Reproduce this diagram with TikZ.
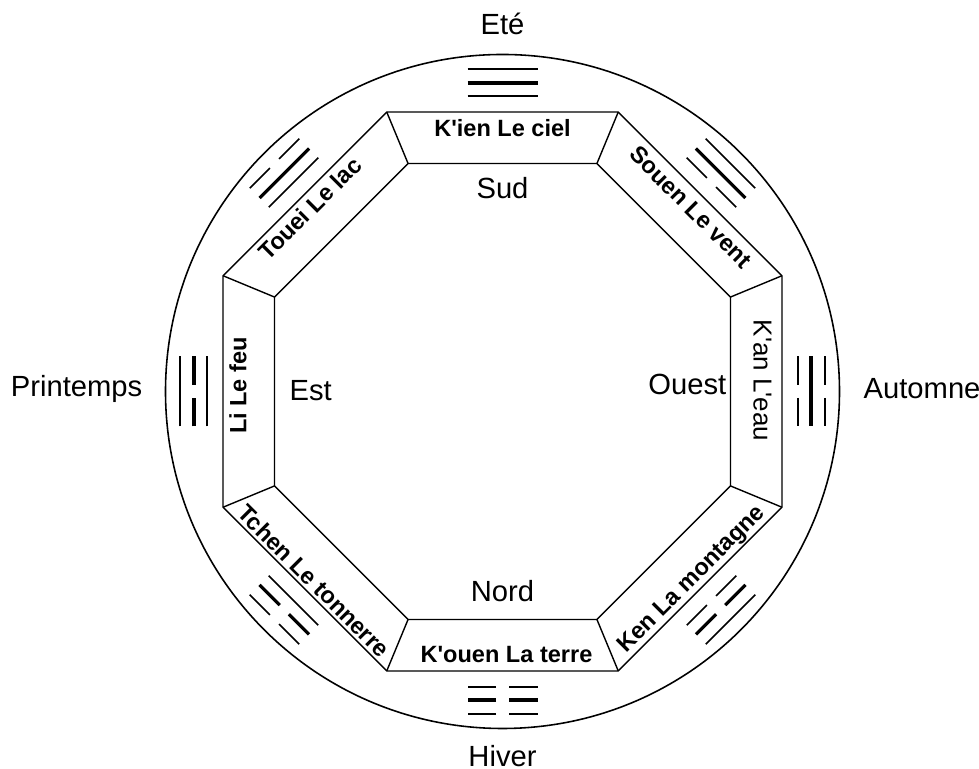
\documentclass[tikz,border=0pt]{standalone}
\usepackage{fontspec}
\setmainfont{Liberation Sans}
\usetikzlibrary{calc}

% one line of a trigram: radius, 1=solid 0=broken, width
\newcommand{\yaoline}[3]{%
  \ifnum#2=1
    \draw[line width=#3] (-0.35,#1) -- (0.35,#1);
  \else
    \draw[line width=#3] (-0.35,#1) -- (-0.065,#1) (0.065,#1) -- (0.35,#1);
  \fi}
\newcommand{\apos}{\textquotesingle}

\begin{document}
\begin{tikzpicture}[
    lbl/.style={font=\fontsize{8.3}{10}\selectfont, inner sep=0pt},
    band/.style={font=\fontsize{6.7}{8}\selectfont\bfseries, inner sep=0pt},
    edge/.style={line width=0.4pt}]

\useasboundingbox (-5.025,-3.775) rectangle (4.765,3.915);

% Circle
\draw[line width=0.45pt] (0,0) circle (3.37);

% Octagons and spokes
\draw[edge] (22.5:3.025) \foreach \a in {67.5,112.5,...,337.5} { -- (\a:3.025) } -- cycle;
\draw[edge] (22.5:2.468) \foreach \a in {67.5,112.5,...,337.5} { -- (\a:2.468) } -- cycle;
\foreach \a in {22.5,67.5,...,337.5}
  \draw[edge] (\a:2.468) -- (\a:3.025);

% Trigrams (inner line first)
\foreach \ang/\ta/\tb/\tc in {90/1/1/1, 45/0/1/1, 0/0/1/0, -45/0/0/1,
                              -90/0/0/0, -135/1/0/0, 180/1/0/1, 135/1/1/0}{
  \begin{scope}[rotate=\ang-90]
    \yaoline{2.955}{\ta}{0.45pt}
    \yaoline{3.085}{\tb}{0.9pt}
    \yaoline{3.225}{\tc}{0.45pt}
  \end{scope}
}

% Names of the trigrams
\node[band] (kien)  at (0,2.63)         {K\apos ien Le ciel};
\node[band, rotate=-45] (souen) at (1.885,1.845) {Souen Le vent};
\node[band, font=\fontsize{7.4}{8}\selectfont, rotate=-90] (kan) at (2.6,0.11) {K\apos an L\apos eau};
\node[band, rotate=45] (ken)   at (1.895,-1.885) {Ken La montagne};
\node[band] (kouen) at (0.04,-2.63)     {K\apos ouen La terre};
\node[band, rotate=-45] (tchen) at (-1.885,-1.895) {Tchen Le tonnerre};
\node[band, rotate=90] (li)    at (-2.645,0.06) {Li Le feu};
\node[band, rotate=45] (touei) at (-1.925,1.83) {Touei Le lac};

% Cardinal points
\node[lbl, anchor=base] (sud)  at (0,1.93)  {Sud};
\node[lbl, anchor=base] (nord) at (0,-2.105) {Nord};
\node[lbl, anchor=base west] (est)   at (-2.135,-0.095) {Est};
\node[lbl, anchor=base east] (ouest) at (2.245,-0.035) {Ouest};

% Seasons
\node[lbl, anchor=base] (ete)   at (0,3.565)  {Eté};
\node[lbl, anchor=base] (hiver) at (0,-3.755) {Hiver};
\node[lbl, anchor=base east] (printemps) at (-3.595,-0.055) {Printemps};
\node[lbl, anchor=base west] (automne)   at (3.605,-0.075)  {Automne};

\end{tikzpicture}
\end{document}
